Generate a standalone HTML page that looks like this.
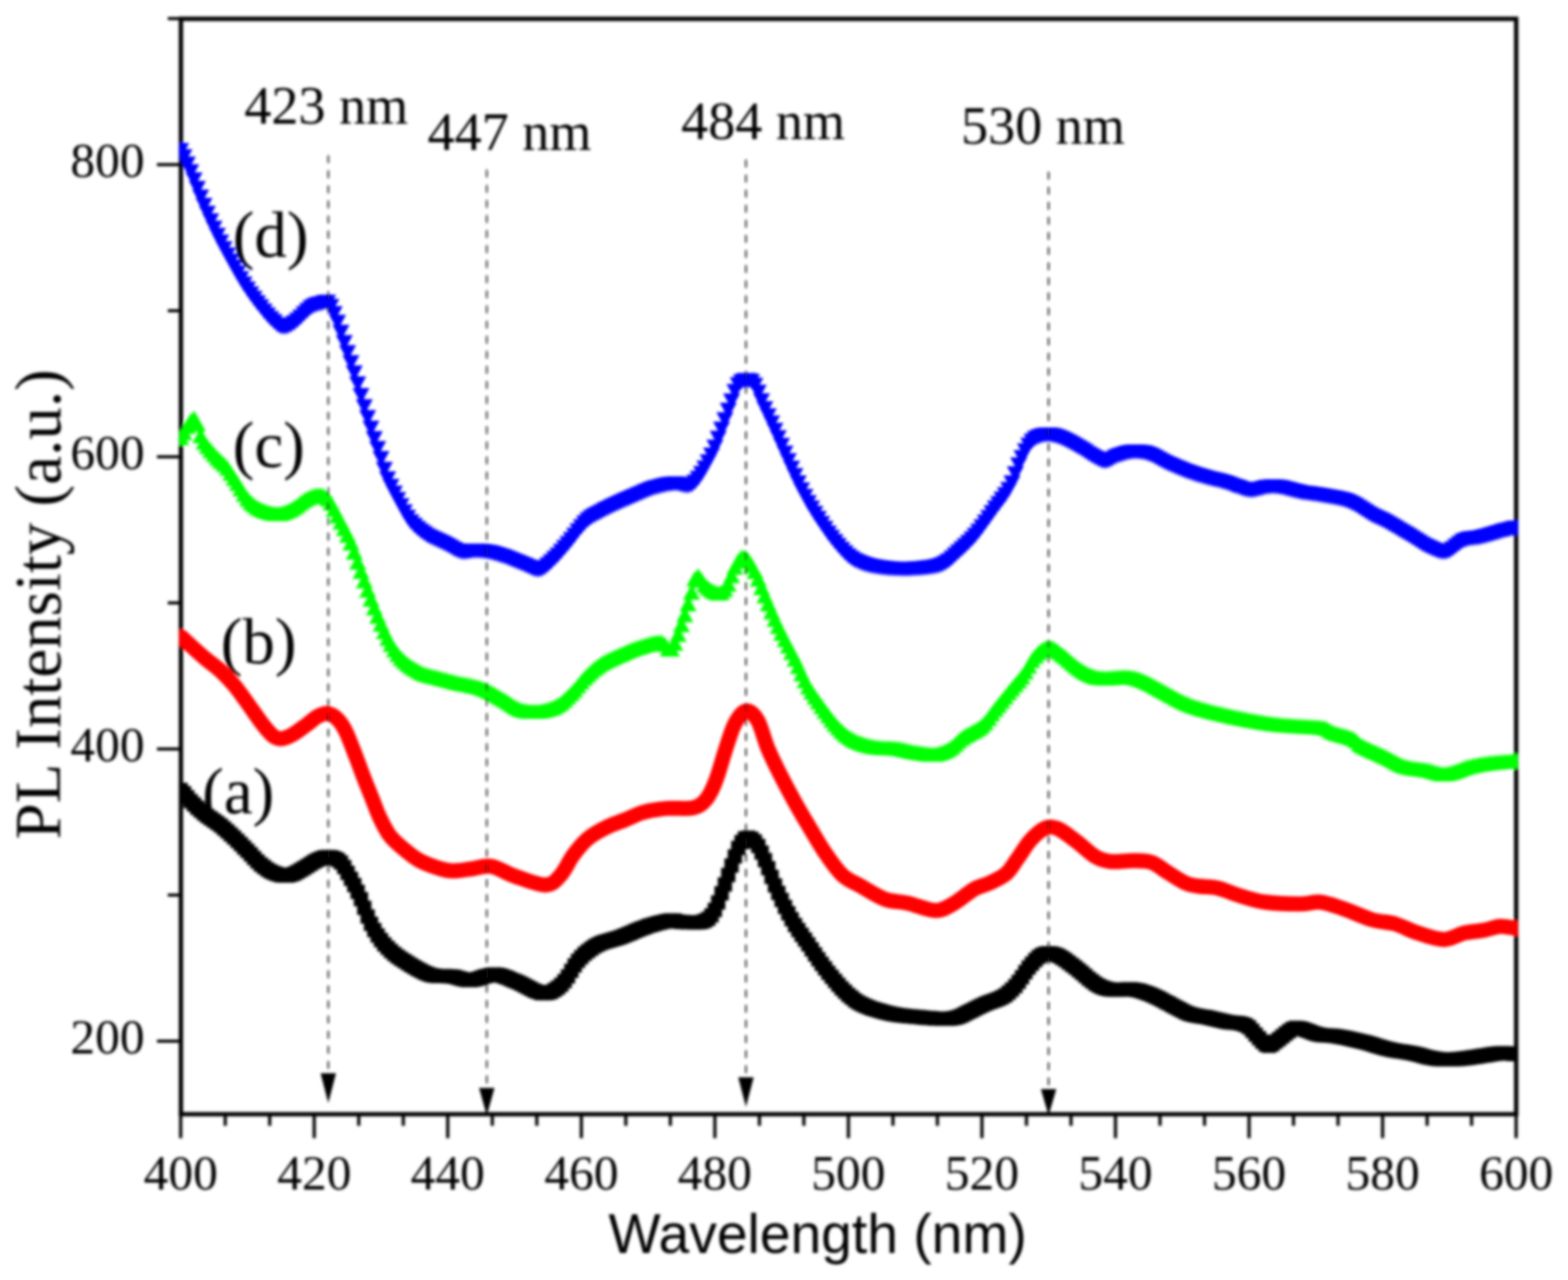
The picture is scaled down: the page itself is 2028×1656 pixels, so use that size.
<!DOCTYPE html><html><head><meta charset="utf-8"><title>PL spectra</title><style>html,body{margin:0;padding:0;background:#fff;overflow:hidden}svg{display:block}</style></head><body>
<svg xmlns="http://www.w3.org/2000/svg" width="2028" height="1656" viewBox="0 0 2028 1656">
<defs><clipPath id="pc"><rect x="231.8" y="0" width="1731.5" height="1441.5"/></clipPath><filter id="bl" filterUnits="userSpaceOnUse" x="0" y="0" width="2028" height="1656"><feGaussianBlur stdDeviation="1.8"/><feGaussianBlur stdDeviation="1.0"/></filter></defs>
<rect width="2028" height="1656" fill="#fff"/>
<g filter="url(#bl)">
<path d="M234.0,24.4H1961.0V1441.5H234.0Z" stroke="#000" stroke-width="5.6" fill="none"/>
<g stroke="#000" stroke-width="4.1" fill="none">
<path d="M203.0,1347.0H234.0M203.0,969.0H234.0M203.0,591.0H234.0M203.0,213.0H234.0M217.0,1158.0H234.0M217.0,780.0H234.0M217.0,402.0H234.0M217.0,24.0H234.0M233.7,1441.5V1472.5M291.3,1441.5V1456.5M348.8,1441.5V1456.5M406.4,1441.5V1472.5M464.0,1441.5V1456.5M521.6,1441.5V1456.5M579.1,1441.5V1472.5M636.7,1441.5V1456.5M694.3,1441.5V1456.5M751.9,1441.5V1472.5M809.4,1441.5V1456.5M867.0,1441.5V1456.5M924.6,1441.5V1472.5M982.2,1441.5V1456.5M1039.7,1441.5V1456.5M1097.3,1441.5V1472.5M1154.9,1441.5V1456.5M1212.4,1441.5V1456.5M1270.0,1441.5V1472.5M1327.6,1441.5V1456.5M1385.2,1441.5V1456.5M1442.7,1441.5V1472.5M1500.3,1441.5V1456.5M1557.9,1441.5V1456.5M1615.5,1441.5V1472.5M1673.0,1441.5V1456.5M1730.6,1441.5V1456.5M1788.2,1441.5V1472.5M1845.8,1441.5V1456.5M1903.3,1441.5V1456.5M1960.9,1441.5V1472.5"/>
</g>
<g clip-path="url(#pc)">
<path d="M234.5,1022.0C236.8,1024.7 242.8,1032.6 248.1,1038.0C253.4,1043.4 260.2,1049.5 266.2,1054.3C272.2,1059.1 278.2,1062.2 284.3,1067.0C290.4,1071.8 296.4,1077.6 302.5,1083.3C308.6,1089.0 314.6,1095.4 320.6,1101.4C326.6,1107.5 332.7,1114.8 338.7,1119.6C344.7,1124.4 350.8,1128.3 356.8,1130.4C362.8,1132.5 368.9,1133.4 374.9,1132.2C380.9,1131.0 386.9,1126.5 393.0,1123.2C399.1,1119.9 405.8,1114.7 411.2,1112.3C416.6,1109.9 420.9,1108.2 425.7,1108.7C430.5,1109.2 435.6,1110.6 440.1,1115.0C444.6,1119.4 448.6,1127.5 452.8,1135.0C457.0,1142.5 461.3,1150.5 465.5,1160.0C469.7,1169.5 474.0,1183.0 478.2,1192.0C482.4,1201.0 486.4,1207.5 490.9,1213.8C495.4,1220.1 499.8,1225.1 505.4,1230.1C510.9,1235.1 515.8,1238.9 524.2,1244.0C532.6,1249.1 545.6,1257.7 555.6,1260.9C565.6,1264.1 575.6,1262.1 584.5,1263.3C593.4,1264.5 599.4,1268.5 608.7,1268.1C618.0,1267.7 630.0,1260.5 640.1,1260.9C650.2,1261.3 658.6,1266.5 669.1,1270.5C679.6,1274.5 693.2,1284.6 702.9,1285.0C712.6,1285.4 719.5,1280.2 727.1,1272.9C734.8,1265.7 741.2,1250.0 748.8,1241.5C756.4,1233.0 764.0,1227.0 772.9,1222.2C781.8,1217.4 791.0,1216.6 801.9,1212.6C812.8,1208.6 827.3,1201.7 838.2,1198.1C849.1,1194.5 860.2,1191.7 867.1,1190.8C874.0,1189.9 872.4,1192.2 879.3,1192.5C886.2,1192.8 901.0,1194.5 908.3,1192.5C915.5,1190.5 918.4,1187.2 922.8,1180.4C927.2,1173.6 930.9,1161.9 934.9,1151.4C938.9,1140.9 943.4,1127.2 947.0,1117.6C950.6,1107.9 953.4,1099.1 956.6,1093.5C959.8,1087.9 962.7,1084.2 966.3,1083.8C969.9,1083.4 974.4,1085.9 978.4,1091.1C982.4,1096.3 986.0,1105.2 990.4,1115.2C994.8,1125.2 999.2,1138.9 1004.9,1151.4C1010.5,1163.9 1017.8,1178.8 1024.3,1190.1C1030.8,1201.4 1036.8,1209.0 1043.6,1219.1C1050.4,1229.2 1057.6,1240.4 1065.3,1250.5C1073.0,1260.6 1081.5,1271.5 1089.5,1279.5C1097.5,1287.5 1103.5,1293.6 1113.6,1298.8C1123.7,1304.0 1137.8,1308.1 1149.9,1310.9C1162.0,1313.7 1174.0,1314.5 1186.1,1315.7C1198.2,1316.9 1213.4,1318.1 1222.3,1318.1C1231.2,1318.1 1234.9,1316.8 1239.2,1315.7C1243.5,1314.6 1242.8,1314.3 1248.3,1311.6C1253.8,1308.9 1264.5,1303.1 1272.5,1299.5C1280.5,1295.9 1289.8,1293.9 1296.6,1289.9C1303.4,1285.9 1307.5,1282.2 1313.5,1275.4C1319.5,1268.6 1326.9,1255.7 1332.9,1248.8C1339.0,1241.9 1343.8,1236.3 1349.8,1234.3C1355.8,1232.3 1361.9,1233.5 1369.1,1236.7C1376.3,1239.9 1385.2,1247.5 1393.2,1253.6C1401.2,1259.6 1410.2,1268.6 1417.4,1273.0C1424.7,1277.4 1428.7,1279.0 1436.7,1280.2C1444.8,1281.4 1456.8,1279.0 1465.7,1280.2C1474.6,1281.4 1481.9,1284.2 1489.9,1287.4C1498.0,1290.6 1506.0,1295.5 1514.0,1299.5C1522.0,1303.5 1530.2,1308.8 1538.2,1311.6C1546.2,1314.4 1554.2,1314.7 1562.3,1316.4C1570.3,1318.1 1578.3,1320.3 1586.5,1322.0C1594.7,1323.7 1604.4,1322.8 1611.4,1326.3C1618.4,1329.8 1623.5,1338.8 1628.3,1343.2C1633.1,1347.6 1636.4,1352.5 1640.4,1352.9C1644.4,1353.3 1647.3,1349.3 1652.5,1345.7C1657.7,1342.1 1666.6,1333.6 1671.8,1331.2C1677.0,1328.8 1678.3,1330.0 1683.9,1331.2C1689.5,1332.4 1697.9,1336.8 1705.6,1338.4C1713.2,1340.0 1720.1,1339.2 1729.8,1340.8C1739.5,1342.4 1752.3,1345.3 1763.6,1348.1C1774.9,1350.9 1786.9,1355.3 1797.4,1357.7C1807.9,1360.1 1816.3,1360.6 1826.4,1362.6C1836.5,1364.6 1847.3,1368.6 1857.8,1369.8C1868.3,1371.0 1878.3,1370.6 1889.2,1369.8C1900.1,1369.0 1914.2,1366.2 1923.0,1365.0C1931.8,1363.8 1936.1,1362.8 1942.3,1362.6C1948.5,1362.4 1957.0,1363.6 1960.0,1363.8" fill="none" stroke="#000" stroke-width="12" stroke-linejoin="round"/>
<path d="M224.4,1012.8h18.5v18.5h-18.5zM228.8,1017.1h18.5v18.5h-18.5zM233.1,1022.3h18.5v18.5h-18.5zM237.4,1027.2h18.5v18.5h-18.5zM241.7,1031.6h18.5v18.5h-18.5zM246.0,1035.7h18.5v18.5h-18.5zM250.4,1039.5h18.5v18.5h-18.5zM254.7,1043.2h18.5v18.5h-18.5zM259.0,1046.6h18.5v18.5h-18.5zM263.3,1049.6h18.5v18.5h-18.5zM267.6,1052.5h18.5v18.5h-18.5zM271.9,1055.4h18.5v18.5h-18.5zM276.3,1058.7h18.5v18.5h-18.5zM280.6,1062.4h18.5v18.5h-18.5zM284.9,1066.2h18.5v18.5h-18.5zM289.2,1070.2h18.5v18.5h-18.5zM293.5,1074.3h18.5v18.5h-18.5zM297.9,1078.5h18.5v18.5h-18.5zM302.2,1082.8h18.5v18.5h-18.5zM306.5,1087.2h18.5v18.5h-18.5zM310.8,1091.6h18.5v18.5h-18.5zM315.1,1096.1h18.5v18.5h-18.5zM319.4,1100.7h18.5v18.5h-18.5zM323.8,1105.2h18.5v18.5h-18.5zM328.1,1109.2h18.5v18.5h-18.5zM332.4,1112.6h18.5v18.5h-18.5zM336.7,1115.7h18.5v18.5h-18.5zM341.0,1118.2h18.5v18.5h-18.5zM345.4,1120.3h18.5v18.5h-18.5zM349.7,1121.8h18.5v18.5h-18.5zM354.0,1122.9h18.5v18.5h-18.5zM358.3,1123.4h18.5v18.5h-18.5zM362.6,1123.4h18.5v18.5h-18.5zM366.9,1122.6h18.5v18.5h-18.5zM371.3,1121.0h18.5v18.5h-18.5zM375.6,1118.7h18.5v18.5h-18.5zM379.9,1116.2h18.5v18.5h-18.5zM384.2,1113.7h18.5v18.5h-18.5zM388.5,1111.1h18.5v18.5h-18.5zM392.9,1108.3h18.5v18.5h-18.5zM397.2,1105.6h18.5v18.5h-18.5zM401.5,1103.3h18.5v18.5h-18.5zM405.8,1101.4h18.5v18.5h-18.5zM410.1,1100.0h18.5v18.5h-18.5zM414.4,1099.4h18.5v18.5h-18.5zM418.8,1099.7h18.5v18.5h-18.5zM423.1,1100.9h18.5v18.5h-18.5zM427.4,1103.0h18.5v18.5h-18.5zM431.7,1106.6h18.5v18.5h-18.5zM436.0,1112.5h18.5v18.5h-18.5zM440.3,1120.0h18.5v18.5h-18.5zM444.7,1127.7h18.5v18.5h-18.5zM449.0,1135.7h18.5v18.5h-18.5zM453.3,1144.4h18.5v18.5h-18.5zM457.6,1154.0h18.5v18.5h-18.5zM461.9,1165.2h18.5v18.5h-18.5zM466.3,1176.5h18.5v18.5h-18.5zM470.6,1186.1h18.5v18.5h-18.5zM474.9,1194.1h18.5v18.5h-18.5zM479.2,1201.0h18.5v18.5h-18.5zM483.5,1207.1h18.5v18.5h-18.5zM487.8,1212.4h18.5v18.5h-18.5zM492.2,1217.1h18.5v18.5h-18.5zM496.5,1221.2h18.5v18.5h-18.5zM500.8,1224.9h18.5v18.5h-18.5zM505.1,1228.2h18.5v18.5h-18.5zM509.4,1231.2h18.5v18.5h-18.5zM513.8,1234.0h18.5v18.5h-18.5zM518.1,1236.7h18.5v18.5h-18.5zM522.4,1239.4h18.5v18.5h-18.5zM526.7,1242.0h18.5v18.5h-18.5zM531.0,1244.5h18.5v18.5h-18.5zM535.3,1246.8h18.5v18.5h-18.5zM539.7,1249.0h18.5v18.5h-18.5zM544.0,1250.8h18.5v18.5h-18.5zM548.3,1252.2h18.5v18.5h-18.5zM552.6,1253.1h18.5v18.5h-18.5zM556.9,1253.5h18.5v18.5h-18.5zM561.3,1253.6h18.5v18.5h-18.5zM565.6,1253.6h18.5v18.5h-18.5zM569.9,1253.7h18.5v18.5h-18.5zM574.2,1253.9h18.5v18.5h-18.5zM578.5,1254.6h18.5v18.5h-18.5zM582.8,1255.8h18.5v18.5h-18.5zM587.2,1257.0h18.5v18.5h-18.5zM591.5,1258.1h18.5v18.5h-18.5zM595.8,1258.8h18.5v18.5h-18.5zM600.1,1258.8h18.5v18.5h-18.5zM604.4,1258.1h18.5v18.5h-18.5zM608.8,1256.9h18.5v18.5h-18.5zM613.1,1255.5h18.5v18.5h-18.5zM617.4,1254.1h18.5v18.5h-18.5zM621.7,1252.9h18.5v18.5h-18.5zM626.0,1252.0h18.5v18.5h-18.5zM630.3,1251.6h18.5v18.5h-18.5zM634.7,1252.0h18.5v18.5h-18.5zM639.0,1253.0h18.5v18.5h-18.5zM643.3,1254.4h18.5v18.5h-18.5zM647.6,1256.1h18.5v18.5h-18.5zM651.9,1257.9h18.5v18.5h-18.5zM656.2,1259.8h18.5v18.5h-18.5zM660.6,1261.5h18.5v18.5h-18.5zM664.9,1263.5h18.5v18.5h-18.5zM669.2,1265.7h18.5v18.5h-18.5zM673.5,1268.0h18.5v18.5h-18.5zM677.8,1270.3h18.5v18.5h-18.5zM682.2,1272.4h18.5v18.5h-18.5zM686.5,1274.1h18.5v18.5h-18.5zM690.8,1275.4h18.5v18.5h-18.5zM695.1,1275.8h18.5v18.5h-18.5zM699.4,1275.3h18.5v18.5h-18.5zM703.7,1273.9h18.5v18.5h-18.5zM708.1,1271.6h18.5v18.5h-18.5zM712.4,1268.5h18.5v18.5h-18.5zM716.7,1264.7h18.5v18.5h-18.5zM721.0,1260.1h18.5v18.5h-18.5zM725.3,1253.9h18.5v18.5h-18.5zM729.7,1246.8h18.5v18.5h-18.5zM734.0,1239.8h18.5v18.5h-18.5zM738.3,1233.7h18.5v18.5h-18.5zM742.6,1229.0h18.5v18.5h-18.5zM746.9,1224.8h18.5v18.5h-18.5zM751.2,1221.2h18.5v18.5h-18.5zM755.6,1217.9h18.5v18.5h-18.5zM759.9,1215.1h18.5v18.5h-18.5zM764.2,1212.7h18.5v18.5h-18.5zM768.5,1210.7h18.5v18.5h-18.5zM772.8,1209.2h18.5v18.5h-18.5zM777.2,1207.9h18.5v18.5h-18.5zM781.5,1206.8h18.5v18.5h-18.5zM785.8,1205.6h18.5v18.5h-18.5zM790.1,1204.2h18.5v18.5h-18.5zM794.4,1202.7h18.5v18.5h-18.5zM798.7,1201.0h18.5v18.5h-18.5zM803.1,1199.2h18.5v18.5h-18.5zM807.4,1197.4h18.5v18.5h-18.5zM811.7,1195.6h18.5v18.5h-18.5zM816.0,1193.8h18.5v18.5h-18.5zM820.3,1192.0h18.5v18.5h-18.5zM824.7,1190.4h18.5v18.5h-18.5zM829.0,1188.8h18.5v18.5h-18.5zM833.3,1187.5h18.5v18.5h-18.5zM837.6,1186.2h18.5v18.5h-18.5zM841.9,1185.0h18.5v18.5h-18.5zM846.2,1183.9h18.5v18.5h-18.5zM850.6,1182.9h18.5v18.5h-18.5zM854.9,1182.0h18.5v18.5h-18.5zM859.2,1181.4h18.5v18.5h-18.5zM863.5,1181.8h18.5v18.5h-18.5zM867.8,1183.1h18.5v18.5h-18.5zM872.1,1183.4h18.5v18.5h-18.5zM876.5,1183.7h18.5v18.5h-18.5zM880.8,1183.9h18.5v18.5h-18.5zM885.1,1184.1h18.5v18.5h-18.5zM889.4,1184.2h18.5v18.5h-18.5zM893.7,1184.1h18.5v18.5h-18.5zM898.1,1183.5h18.5v18.5h-18.5zM902.4,1182.1h18.5v18.5h-18.5zM906.7,1179.6h18.5v18.5h-18.5zM911.0,1174.9h18.5v18.5h-18.5zM915.3,1168.1h18.5v18.5h-18.5zM919.6,1158.3h18.5v18.5h-18.5zM924.0,1146.6h18.5v18.5h-18.5zM928.3,1135.1h18.5v18.5h-18.5zM932.6,1122.8h18.5v18.5h-18.5zM936.9,1110.6h18.5v18.5h-18.5zM941.2,1098.8h18.5v18.5h-18.5zM945.6,1087.8h18.5v18.5h-18.5zM949.9,1080.2h18.5v18.5h-18.5zM954.2,1075.6h18.5v18.5h-18.5zM958.5,1074.5h18.5v18.5h-18.5zM962.8,1076.0h18.5v18.5h-18.5zM967.1,1079.5h18.5v18.5h-18.5zM971.5,1085.3h18.5v18.5h-18.5zM975.8,1093.8h18.5v18.5h-18.5zM980.1,1103.5h18.5v18.5h-18.5zM984.4,1113.9h18.5v18.5h-18.5zM988.7,1125.2h18.5v18.5h-18.5zM993.1,1136.2h18.5v18.5h-18.5zM997.4,1145.9h18.5v18.5h-18.5zM1001.7,1155.1h18.5v18.5h-18.5zM1006.0,1163.9h18.5v18.5h-18.5zM1010.3,1172.2h18.5v18.5h-18.5zM1014.6,1180.1h18.5v18.5h-18.5zM1019.0,1187.4h18.5v18.5h-18.5zM1023.3,1193.9h18.5v18.5h-18.5zM1027.6,1200.2h18.5v18.5h-18.5zM1031.9,1206.3h18.5v18.5h-18.5zM1036.2,1212.6h18.5v18.5h-18.5zM1040.6,1219.1h18.5v18.5h-18.5zM1044.9,1225.5h18.5v18.5h-18.5zM1049.2,1231.8h18.5v18.5h-18.5zM1053.5,1237.8h18.5v18.5h-18.5zM1057.8,1243.6h18.5v18.5h-18.5zM1062.1,1249.2h18.5v18.5h-18.5zM1066.5,1254.6h18.5v18.5h-18.5zM1070.8,1259.8h18.5v18.5h-18.5zM1075.1,1264.8h18.5v18.5h-18.5zM1079.4,1269.4h18.5v18.5h-18.5zM1083.7,1273.7h18.5v18.5h-18.5zM1088.0,1277.9h18.5v18.5h-18.5zM1092.4,1281.6h18.5v18.5h-18.5zM1096.7,1284.9h18.5v18.5h-18.5zM1101.0,1287.7h18.5v18.5h-18.5zM1105.3,1290.0h18.5v18.5h-18.5zM1109.6,1292.0h18.5v18.5h-18.5zM1114.0,1293.8h18.5v18.5h-18.5zM1118.3,1295.4h18.5v18.5h-18.5zM1122.6,1296.8h18.5v18.5h-18.5zM1126.9,1298.1h18.5v18.5h-18.5zM1131.2,1299.3h18.5v18.5h-18.5zM1135.5,1300.4h18.5v18.5h-18.5zM1139.9,1301.5h18.5v18.5h-18.5zM1144.2,1302.4h18.5v18.5h-18.5zM1148.5,1303.2h18.5v18.5h-18.5zM1152.8,1303.9h18.5v18.5h-18.5zM1157.1,1304.5h18.5v18.5h-18.5zM1161.5,1305.0h18.5v18.5h-18.5zM1165.8,1305.4h18.5v18.5h-18.5zM1170.1,1305.8h18.5v18.5h-18.5zM1174.4,1306.2h18.5v18.5h-18.5zM1178.7,1306.6h18.5v18.5h-18.5zM1183.0,1307.0h18.5v18.5h-18.5zM1187.4,1307.4h18.5v18.5h-18.5zM1191.7,1307.8h18.5v18.5h-18.5zM1196.0,1308.1h18.5v18.5h-18.5zM1200.3,1308.4h18.5v18.5h-18.5zM1204.6,1308.6h18.5v18.5h-18.5zM1209.0,1308.8h18.5v18.5h-18.5zM1213.3,1308.8h18.5v18.5h-18.5zM1217.6,1308.7h18.5v18.5h-18.5zM1221.9,1308.3h18.5v18.5h-18.5zM1226.2,1307.4h18.5v18.5h-18.5zM1230.5,1306.3h18.5v18.5h-18.5zM1234.9,1304.6h18.5v18.5h-18.5zM1239.2,1302.3h18.5v18.5h-18.5zM1243.5,1300.1h18.5v18.5h-18.5zM1247.8,1297.9h18.5v18.5h-18.5zM1252.1,1295.7h18.5v18.5h-18.5zM1256.5,1293.5h18.5v18.5h-18.5zM1260.8,1291.4h18.5v18.5h-18.5zM1265.1,1289.5h18.5v18.5h-18.5zM1269.4,1287.8h18.5v18.5h-18.5zM1273.7,1286.3h18.5v18.5h-18.5zM1278.0,1284.8h18.5v18.5h-18.5zM1282.4,1283.1h18.5v18.5h-18.5zM1286.7,1281.0h18.5v18.5h-18.5zM1291.0,1278.4h18.5v18.5h-18.5zM1295.3,1275.1h18.5v18.5h-18.5zM1299.6,1271.1h18.5v18.5h-18.5zM1304.0,1266.5h18.5v18.5h-18.5zM1308.3,1261.1h18.5v18.5h-18.5zM1312.6,1254.9h18.5v18.5h-18.5zM1316.9,1248.5h18.5v18.5h-18.5zM1321.2,1242.5h18.5v18.5h-18.5zM1325.5,1237.4h18.5v18.5h-18.5zM1329.9,1232.7h18.5v18.5h-18.5zM1334.2,1228.7h18.5v18.5h-18.5zM1338.5,1225.9h18.5v18.5h-18.5zM1342.8,1224.4h18.5v18.5h-18.5zM1347.1,1224.1h18.5v18.5h-18.5zM1351.4,1224.6h18.5v18.5h-18.5zM1355.8,1225.8h18.5v18.5h-18.5zM1360.1,1227.6h18.5v18.5h-18.5zM1364.4,1229.9h18.5v18.5h-18.5zM1368.7,1232.7h18.5v18.5h-18.5zM1373.0,1235.9h18.5v18.5h-18.5zM1377.4,1239.3h18.5v18.5h-18.5zM1381.7,1242.6h18.5v18.5h-18.5zM1386.0,1245.9h18.5v18.5h-18.5zM1390.3,1249.5h18.5v18.5h-18.5zM1394.6,1253.2h18.5v18.5h-18.5zM1398.9,1256.9h18.5v18.5h-18.5zM1403.3,1260.3h18.5v18.5h-18.5zM1407.6,1263.4h18.5v18.5h-18.5zM1411.9,1265.9h18.5v18.5h-18.5zM1416.2,1268.1h18.5v18.5h-18.5zM1420.5,1269.6h18.5v18.5h-18.5zM1424.9,1270.5h18.5v18.5h-18.5zM1429.2,1271.1h18.5v18.5h-18.5zM1433.5,1271.3h18.5v18.5h-18.5zM1437.8,1271.2h18.5v18.5h-18.5zM1442.1,1270.9h18.5v18.5h-18.5zM1446.4,1270.7h18.5v18.5h-18.5zM1450.8,1270.6h18.5v18.5h-18.5zM1455.1,1270.8h18.5v18.5h-18.5zM1459.4,1271.4h18.5v18.5h-18.5zM1463.7,1272.3h18.5v18.5h-18.5zM1468.0,1273.5h18.5v18.5h-18.5zM1472.4,1275.0h18.5v18.5h-18.5zM1476.7,1276.6h18.5v18.5h-18.5zM1481.0,1278.3h18.5v18.5h-18.5zM1485.3,1280.2h18.5v18.5h-18.5zM1489.6,1282.3h18.5v18.5h-18.5zM1493.9,1284.6h18.5v18.5h-18.5zM1498.3,1286.9h18.5v18.5h-18.5zM1502.6,1289.1h18.5v18.5h-18.5zM1506.9,1291.4h18.5v18.5h-18.5zM1511.2,1293.7h18.5v18.5h-18.5zM1515.5,1296.0h18.5v18.5h-18.5zM1519.8,1298.3h18.5v18.5h-18.5zM1524.2,1300.4h18.5v18.5h-18.5zM1528.5,1302.2h18.5v18.5h-18.5zM1532.8,1303.5h18.5v18.5h-18.5zM1537.1,1304.5h18.5v18.5h-18.5zM1541.4,1305.2h18.5v18.5h-18.5zM1545.8,1305.9h18.5v18.5h-18.5zM1550.1,1306.6h18.5v18.5h-18.5zM1554.4,1307.4h18.5v18.5h-18.5zM1558.7,1308.4h18.5v18.5h-18.5zM1563.0,1309.5h18.5v18.5h-18.5zM1567.3,1310.5h18.5v18.5h-18.5zM1571.7,1311.5h18.5v18.5h-18.5zM1576.0,1312.5h18.5v18.5h-18.5zM1580.3,1313.3h18.5v18.5h-18.5zM1584.6,1313.7h18.5v18.5h-18.5zM1588.9,1314.1h18.5v18.5h-18.5zM1593.3,1314.6h18.5v18.5h-18.5zM1597.6,1315.4h18.5v18.5h-18.5zM1601.9,1316.9h18.5v18.5h-18.5zM1606.2,1319.8h18.5v18.5h-18.5zM1610.5,1324.2h18.5v18.5h-18.5zM1614.8,1329.3h18.5v18.5h-18.5zM1619.2,1334.1h18.5v18.5h-18.5zM1623.5,1338.4h18.5v18.5h-18.5zM1627.8,1342.3h18.5v18.5h-18.5zM1632.1,1343.7h18.5v18.5h-18.5zM1636.4,1341.8h18.5v18.5h-18.5zM1640.8,1338.3h18.5v18.5h-18.5zM1645.1,1335.1h18.5v18.5h-18.5zM1649.4,1331.6h18.5v18.5h-18.5zM1653.7,1328.1h18.5v18.5h-18.5zM1658.0,1324.8h18.5v18.5h-18.5zM1662.3,1322.0h18.5v18.5h-18.5zM1666.7,1320.6h18.5v18.5h-18.5zM1671.0,1321.1h18.5v18.5h-18.5zM1675.3,1322.1h18.5v18.5h-18.5zM1679.6,1323.5h18.5v18.5h-18.5zM1683.9,1325.1h18.5v18.5h-18.5zM1688.3,1326.7h18.5v18.5h-18.5zM1692.6,1328.2h18.5v18.5h-18.5zM1696.9,1329.3h18.5v18.5h-18.5zM1701.2,1329.9h18.5v18.5h-18.5zM1705.5,1330.2h18.5v18.5h-18.5zM1709.8,1330.5h18.5v18.5h-18.5zM1714.2,1330.8h18.5v18.5h-18.5zM1718.5,1331.2h18.5v18.5h-18.5zM1722.8,1331.9h18.5v18.5h-18.5zM1727.1,1332.7h18.5v18.5h-18.5zM1731.4,1333.6h18.5v18.5h-18.5zM1735.8,1334.5h18.5v18.5h-18.5zM1740.1,1335.5h18.5v18.5h-18.5zM1744.4,1336.4h18.5v18.5h-18.5zM1748.7,1337.5h18.5v18.5h-18.5zM1753.0,1338.5h18.5v18.5h-18.5zM1757.3,1339.6h18.5v18.5h-18.5zM1761.7,1340.8h18.5v18.5h-18.5zM1766.0,1342.1h18.5v18.5h-18.5zM1770.3,1343.4h18.5v18.5h-18.5zM1774.6,1344.7h18.5v18.5h-18.5zM1778.9,1346.0h18.5v18.5h-18.5zM1783.2,1347.2h18.5v18.5h-18.5zM1787.6,1348.3h18.5v18.5h-18.5zM1791.9,1349.3h18.5v18.5h-18.5zM1796.2,1350.0h18.5v18.5h-18.5zM1800.5,1350.7h18.5v18.5h-18.5zM1804.8,1351.3h18.5v18.5h-18.5zM1809.2,1352.0h18.5v18.5h-18.5zM1813.5,1352.7h18.5v18.5h-18.5zM1817.8,1353.5h18.5v18.5h-18.5zM1822.1,1354.5h18.5v18.5h-18.5zM1826.4,1355.6h18.5v18.5h-18.5zM1830.7,1356.7h18.5v18.5h-18.5zM1835.1,1357.9h18.5v18.5h-18.5zM1839.4,1358.9h18.5v18.5h-18.5zM1843.7,1359.8h18.5v18.5h-18.5zM1848.0,1360.5h18.5v18.5h-18.5zM1852.3,1360.9h18.5v18.5h-18.5zM1856.7,1361.2h18.5v18.5h-18.5zM1861.0,1361.3h18.5v18.5h-18.5zM1865.3,1361.3h18.5v18.5h-18.5zM1869.6,1361.2h18.5v18.5h-18.5zM1873.9,1360.9h18.5v18.5h-18.5zM1878.2,1360.7h18.5v18.5h-18.5zM1882.6,1360.3h18.5v18.5h-18.5zM1886.9,1359.8h18.5v18.5h-18.5zM1891.2,1359.3h18.5v18.5h-18.5zM1895.5,1358.6h18.5v18.5h-18.5zM1899.8,1357.9h18.5v18.5h-18.5zM1904.2,1357.2h18.5v18.5h-18.5zM1908.5,1356.5h18.5v18.5h-18.5zM1912.8,1355.9h18.5v18.5h-18.5zM1917.1,1355.3h18.5v18.5h-18.5zM1921.4,1354.6h18.5v18.5h-18.5zM1925.7,1354.0h18.5v18.5h-18.5zM1930.1,1353.5h18.5v18.5h-18.5zM1934.4,1353.3h18.5v18.5h-18.5zM1938.7,1353.5h18.5v18.5h-18.5zM1943.0,1353.8h18.5v18.5h-18.5zM1947.3,1354.2h18.5v18.5h-18.5zM1951.6,1354.5h18.5v18.5h-18.5z" fill="#000"/>
<path d="M234.5,824.0C236.8,826.1 242.8,831.8 248.1,836.5C253.4,841.2 260.2,847.4 266.2,852.5C272.2,857.6 278.2,861.4 284.3,867.0C290.4,872.6 296.4,878.8 302.5,886.0C308.6,893.2 314.6,902.1 320.6,910.4C326.6,918.7 333.3,928.8 338.7,935.8C344.1,942.8 349.0,948.8 353.2,952.1C357.4,955.4 359.9,956.0 364.1,955.7C368.3,955.4 373.2,953.3 378.6,950.3C384.0,947.3 391.3,941.5 396.7,937.6C402.1,933.7 406.7,929.1 411.2,926.7C415.7,924.3 419.6,922.5 423.8,923.1C428.0,923.7 432.6,926.5 436.5,930.4C440.4,934.3 443.5,938.8 447.4,946.7C451.3,954.6 456.0,967.7 460.0,978.0C464.0,988.3 467.9,999.2 471.4,1008.3C474.9,1017.4 477.9,1024.5 481.1,1032.5C484.3,1040.5 486.9,1048.5 490.7,1056.6C494.5,1064.6 498.6,1073.7 504.0,1080.8C509.4,1087.9 516.5,1093.6 523.0,1099.0C529.5,1104.4 535.4,1109.4 542.7,1113.4C550.0,1117.4 559.8,1120.8 566.8,1123.0C573.8,1125.2 577.8,1126.5 584.9,1126.7C592.0,1126.9 600.7,1125.3 609.1,1124.3C617.5,1123.3 626.1,1119.4 635.3,1120.8C644.5,1122.2 652.6,1128.9 664.3,1132.9C676.0,1136.9 695.2,1144.9 705.3,1144.9C715.3,1144.9 718.6,1139.3 724.6,1132.9C730.6,1126.5 735.5,1114.4 741.5,1106.3C747.5,1098.2 753.6,1090.5 760.9,1084.5C768.1,1078.5 777.0,1074.0 785.0,1070.0C793.0,1066.0 801.2,1063.6 809.2,1060.4C817.2,1057.2 824.4,1053.1 833.3,1050.7C842.1,1048.3 851.7,1046.9 862.3,1045.9C872.9,1045.0 888.4,1047.1 897.0,1045.0C905.6,1042.9 909.1,1039.3 914.0,1033.3C918.9,1027.3 922.1,1019.7 926.1,1009.2C930.1,998.7 934.2,982.6 938.2,970.5C942.2,958.4 945.8,945.2 950.2,936.7C954.6,928.2 959.7,920.6 964.7,919.8C969.7,919.0 975.3,924.0 980.0,932.0C984.7,940.0 988.2,956.4 993.0,968.0C997.8,979.6 1003.1,990.2 1009.0,1001.9C1014.9,1013.6 1021.8,1026.5 1028.3,1038.2C1034.8,1049.9 1041.5,1061.2 1048.0,1072.0C1054.5,1082.8 1060.1,1093.0 1067.0,1103.0C1073.9,1113.0 1081.7,1124.8 1089.5,1132.1C1097.3,1139.4 1104.3,1141.4 1113.6,1146.6C1122.8,1151.8 1134.9,1159.9 1145.0,1163.5C1155.1,1167.1 1163.1,1166.0 1174.0,1168.4C1184.9,1170.8 1200.1,1178.0 1210.2,1178.0C1220.3,1178.0 1226.0,1173.1 1234.4,1168.4C1242.8,1163.7 1252.9,1154.3 1260.4,1150.0C1268.0,1145.7 1272.9,1145.8 1279.7,1142.5C1286.5,1139.2 1295.4,1135.6 1301.4,1130.4C1307.4,1125.2 1310.7,1118.3 1315.9,1111.1C1321.2,1103.9 1326.9,1093.6 1332.9,1087.0C1339.0,1080.4 1346.2,1073.7 1352.2,1071.3C1358.2,1068.9 1362.3,1069.5 1369.1,1072.5C1375.9,1075.5 1385.2,1083.4 1393.2,1089.4C1401.2,1095.4 1410.2,1104.5 1417.4,1108.7C1424.7,1112.9 1428.7,1113.9 1436.7,1114.7C1444.8,1115.5 1456.8,1113.3 1465.7,1113.5C1474.6,1113.7 1482.7,1113.5 1489.9,1115.9C1497.2,1118.3 1502.0,1123.6 1509.2,1128.0C1516.4,1132.4 1526.5,1139.4 1533.3,1142.5C1540.1,1145.6 1543.0,1145.4 1550.0,1146.5C1557.0,1147.6 1566.0,1146.9 1575.0,1149.0C1584.0,1151.1 1593.9,1156.0 1604.0,1159.0C1614.1,1162.0 1622.7,1165.2 1635.6,1167.0C1648.5,1168.8 1669.3,1169.5 1681.4,1169.5C1693.5,1169.5 1698.7,1166.2 1708.0,1167.2C1717.3,1168.2 1725.8,1171.7 1737.0,1175.5C1748.2,1179.3 1763.9,1186.8 1775.0,1190.0C1786.1,1193.2 1793.6,1192.2 1803.4,1195.0C1813.2,1197.8 1822.9,1203.6 1833.6,1207.0C1844.3,1210.4 1857.3,1215.5 1867.4,1215.5C1877.5,1215.5 1885.5,1209.0 1894.0,1207.0C1902.5,1205.0 1910.5,1205.1 1918.2,1203.7C1925.9,1202.3 1933.0,1199.0 1940.0,1198.5C1947.0,1198.0 1956.7,1200.6 1960.0,1201.0" fill="none" stroke="#ff0000" stroke-width="19.5" stroke-linejoin="round" stroke-linecap="round"/>
<path d="M234.5,566.0C237.2,561.8 246.5,540.7 251.0,541.0C255.5,541.3 256.8,559.5 261.4,567.6C265.9,575.7 273.1,583.4 278.3,589.4C283.5,595.4 288.0,597.9 292.8,603.9C297.6,609.9 302.5,618.4 307.3,625.6C312.1,632.8 316.6,641.7 321.8,647.3C327.0,652.9 332.3,656.6 338.7,659.4C345.1,662.2 353.5,664.7 360.4,664.3C367.2,663.9 373.8,660.2 379.8,657.0C385.9,653.8 391.1,647.7 396.7,644.9C402.3,642.1 408.8,639.7 413.6,640.1C418.4,640.5 421.7,642.5 425.7,647.3C429.7,652.1 433.3,660.6 437.7,669.1C442.1,677.6 447.8,687.6 452.2,698.1C456.6,708.6 460.3,720.6 464.3,731.9C468.3,743.2 472.4,754.8 476.4,765.7C480.4,776.6 484.1,786.6 488.5,797.1C492.9,807.6 497.7,819.2 502.9,828.5C508.1,837.8 513.0,845.9 519.9,852.7C526.8,859.6 536.0,865.6 544.0,869.6C552.0,873.6 560.2,874.6 568.2,876.8C576.2,879.0 583.2,880.8 592.3,883.0C601.4,885.2 613.7,886.7 623.0,890.0C632.3,893.3 640.0,898.3 648.3,902.9C656.5,907.5 664.5,914.6 672.5,917.4C680.5,920.2 688.6,920.6 696.6,919.8C704.6,919.0 713.5,916.6 720.8,912.6C728.0,908.6 734.1,901.8 740.1,895.7C746.1,889.7 751.0,882.3 757.0,876.3C763.0,870.2 769.0,864.2 776.3,859.4C783.5,854.6 792.2,851.0 800.5,847.3C808.8,843.6 817.0,839.8 826.0,837.0C835.0,834.2 847.6,829.9 854.6,830.4C861.6,830.9 863.6,843.6 868.0,840.0C872.4,836.4 876.9,820.2 881.0,809.0C885.1,797.8 889.2,783.7 892.5,773.0C895.8,762.3 897.5,747.3 901.0,745.0C904.5,742.7 908.9,755.3 913.8,759.0C918.7,762.7 926.0,767.5 930.6,767.0C935.2,766.5 938.1,761.8 941.5,756.0C944.9,750.2 947.8,738.0 951.2,732.0C954.6,726.0 958.0,719.2 962.0,720.0C966.0,720.8 970.6,728.3 975.3,737.0C979.9,745.7 984.9,760.2 989.9,772.0C994.9,783.8 999.5,795.3 1005.5,808.0C1011.5,820.7 1019.8,835.3 1026.0,848.0C1032.2,860.7 1037.3,873.7 1043.0,884.0C1048.7,894.3 1053.5,900.8 1060.0,910.0C1066.5,919.2 1075.0,931.3 1082.0,939.0C1089.0,946.7 1094.0,951.5 1102.0,956.0C1110.0,960.5 1119.9,963.7 1129.8,965.7C1139.7,967.7 1152.0,966.9 1161.2,968.1C1170.5,969.3 1177.2,971.8 1185.3,973.0C1193.3,974.2 1202.2,976.2 1209.5,975.4C1216.8,974.6 1222.8,971.7 1228.8,968.1C1234.8,964.5 1238.8,958.4 1245.7,953.6C1252.6,948.8 1263.0,945.0 1269.9,939.1C1276.8,933.2 1280.8,925.7 1287.0,918.0C1293.2,910.3 1301.0,900.4 1307.0,893.0C1313.0,885.6 1317.8,881.1 1323.0,873.9C1328.2,866.7 1332.5,856.1 1338.0,850.0C1343.5,843.9 1349.9,837.7 1355.7,837.0C1361.5,836.3 1365.5,841.1 1372.6,846.0C1379.7,850.9 1389.8,861.4 1398.1,866.5C1406.4,871.6 1412.2,875.0 1422.2,876.5C1432.2,878.0 1448.4,874.8 1458.0,875.5C1467.6,876.2 1471.5,877.5 1480.0,881.0C1488.5,884.5 1499.5,891.5 1509.2,896.5C1518.9,901.5 1527.3,907.0 1538.2,911.3C1549.1,915.5 1561.4,918.7 1574.4,922.0C1587.4,925.3 1603.2,928.5 1616.2,931.0C1629.2,933.5 1640.4,935.4 1652.5,936.8C1664.6,938.2 1678.6,938.7 1688.7,939.5C1698.8,940.3 1706.9,940.2 1712.9,941.6C1718.9,943.0 1718.9,945.4 1724.9,947.6C1730.9,949.8 1743.0,952.2 1749.1,955.0C1755.1,957.8 1754.0,960.5 1761.2,964.5C1768.5,968.5 1783.3,974.6 1792.6,979.0C1801.8,983.4 1807.8,988.3 1816.7,991.1C1825.6,993.9 1836.8,994.3 1845.7,995.9C1854.6,997.5 1860.6,1001.6 1869.9,1000.8C1879.2,1000.0 1891.2,993.5 1901.3,991.1C1911.3,988.7 1920.4,987.5 1930.2,986.3C1940.0,985.1 1955.0,984.3 1960.0,983.9" fill="none" stroke="#00ff00" stroke-width="6" stroke-linejoin="round" stroke-linecap="round"/>
<path d="M222.7,576.0h22.0l-11.00,-20zM227.0,569.5h22.0l-11.00,-20zM231.3,561.4h22.0l-11.00,-20zM235.7,554.6h22.0l-11.00,-20zM240.0,551.0h22.0l-11.00,-20zM244.3,558.2h22.0l-11.00,-20zM248.6,573.5h22.0l-11.00,-20zM252.9,581.7h22.0l-11.00,-20zM257.2,587.6h22.0l-11.00,-20zM261.6,592.8h22.0l-11.00,-20zM265.9,597.8h22.0l-11.00,-20zM270.2,602.5h22.0l-11.00,-20zM274.5,606.5h22.0l-11.00,-20zM278.8,610.5h22.0l-11.00,-20zM283.2,615.6h22.0l-11.00,-20zM287.5,621.9h22.0l-11.00,-20zM291.8,628.6h22.0l-11.00,-20zM296.1,635.3h22.0l-11.00,-20zM300.4,642.2h22.0l-11.00,-20zM304.7,649.2h22.0l-11.00,-20zM309.1,655.3h22.0l-11.00,-20zM313.4,659.9h22.0l-11.00,-20zM317.7,663.6h22.0l-11.00,-20zM322.0,666.5h22.0l-11.00,-20zM326.3,668.8h22.0l-11.00,-20zM330.6,670.6h22.0l-11.00,-20zM335.0,672.1h22.0l-11.00,-20zM339.3,673.3h22.0l-11.00,-20zM343.6,674.0h22.0l-11.00,-20zM347.9,674.3h22.0l-11.00,-20zM352.2,674.0h22.0l-11.00,-20zM356.6,672.8h22.0l-11.00,-20zM360.9,671.1h22.0l-11.00,-20zM365.2,668.9h22.0l-11.00,-20zM369.5,666.6h22.0l-11.00,-20zM373.8,663.7h22.0l-11.00,-20zM378.1,660.2h22.0l-11.00,-20zM382.5,656.9h22.0l-11.00,-20zM386.8,654.4h22.0l-11.00,-20zM391.1,652.5h22.0l-11.00,-20zM395.4,651.0h22.0l-11.00,-20zM399.7,650.2h22.0l-11.00,-20zM404.1,650.3h22.0l-11.00,-20zM408.4,651.7h22.0l-11.00,-20zM412.7,655.1h22.0l-11.00,-20zM417.0,660.5h22.0l-11.00,-20zM421.3,668.4h22.0l-11.00,-20zM425.6,677.1h22.0l-11.00,-20zM430.0,685.3h22.0l-11.00,-20zM434.3,693.5h22.0l-11.00,-20zM438.6,702.3h22.0l-11.00,-20zM442.9,712.3h22.0l-11.00,-20zM447.2,724.2h22.0l-11.00,-20zM451.6,736.9h22.0l-11.00,-20zM455.9,749.1h22.0l-11.00,-20zM460.2,761.3h22.0l-11.00,-20zM464.5,773.3h22.0l-11.00,-20zM468.8,784.9h22.0l-11.00,-20zM473.1,796.3h22.0l-11.00,-20zM477.5,807.0h22.0l-11.00,-20zM481.8,817.2h22.0l-11.00,-20zM486.1,827.0h22.0l-11.00,-20zM490.4,835.8h22.0l-11.00,-20zM494.7,843.4h22.0l-11.00,-20zM499.1,850.4h22.0l-11.00,-20zM503.4,856.4h22.0l-11.00,-20zM507.7,861.5h22.0l-11.00,-20zM512.0,865.6h22.0l-11.00,-20zM516.3,869.2h22.0l-11.00,-20zM520.6,872.3h22.0l-11.00,-20zM525.0,875.1h22.0l-11.00,-20zM529.3,877.6h22.0l-11.00,-20zM533.6,879.9h22.0l-11.00,-20zM537.9,881.7h22.0l-11.00,-20zM542.2,883.1h22.0l-11.00,-20zM546.5,884.2h22.0l-11.00,-20zM550.9,885.2h22.0l-11.00,-20zM555.2,886.3h22.0l-11.00,-20zM559.5,887.4h22.0l-11.00,-20zM563.8,888.6h22.0l-11.00,-20zM568.1,889.7h22.0l-11.00,-20zM572.5,890.8h22.0l-11.00,-20zM576.8,891.9h22.0l-11.00,-20zM581.1,893.0h22.0l-11.00,-20zM585.4,893.9h22.0l-11.00,-20zM589.7,894.8h22.0l-11.00,-20zM594.0,895.6h22.0l-11.00,-20zM598.4,896.4h22.0l-11.00,-20zM602.7,897.4h22.0l-11.00,-20zM607.0,898.5h22.0l-11.00,-20zM611.3,899.8h22.0l-11.00,-20zM615.6,901.4h22.0l-11.00,-20zM620.0,903.4h22.0l-11.00,-20zM624.3,905.6h22.0l-11.00,-20zM628.6,907.9h22.0l-11.00,-20zM632.9,910.4h22.0l-11.00,-20zM637.2,912.9h22.0l-11.00,-20zM641.5,915.5h22.0l-11.00,-20zM645.9,918.3h22.0l-11.00,-20zM650.2,921.3h22.0l-11.00,-20zM654.5,924.0h22.0l-11.00,-20zM658.8,926.3h22.0l-11.00,-20zM663.1,927.9h22.0l-11.00,-20zM667.5,929.1h22.0l-11.00,-20zM671.8,929.8h22.0l-11.00,-20zM676.1,930.1h22.0l-11.00,-20zM680.4,930.1h22.0l-11.00,-20zM684.7,929.9h22.0l-11.00,-20zM689.0,929.4h22.0l-11.00,-20zM693.4,928.6h22.0l-11.00,-20zM697.7,927.5h22.0l-11.00,-20zM702.0,926.1h22.0l-11.00,-20zM706.3,924.4h22.0l-11.00,-20zM710.6,922.1h22.0l-11.00,-20zM715.0,919.2h22.0l-11.00,-20zM719.3,915.5h22.0l-11.00,-20zM723.6,911.3h22.0l-11.00,-20zM727.9,906.9h22.0l-11.00,-20zM732.2,902.4h22.0l-11.00,-20zM736.5,897.2h22.0l-11.00,-20zM740.9,892.0h22.0l-11.00,-20zM745.2,887.1h22.0l-11.00,-20zM749.5,882.8h22.0l-11.00,-20zM753.8,878.7h22.0l-11.00,-20zM758.1,874.8h22.0l-11.00,-20zM762.5,871.4h22.0l-11.00,-20zM766.8,868.5h22.0l-11.00,-20zM771.1,865.9h22.0l-11.00,-20zM775.4,863.7h22.0l-11.00,-20zM779.7,861.7h22.0l-11.00,-20zM784.0,859.7h22.0l-11.00,-20zM788.4,857.8h22.0l-11.00,-20zM792.7,855.9h22.0l-11.00,-20zM797.0,853.9h22.0l-11.00,-20zM801.3,852.1h22.0l-11.00,-20zM805.6,850.3h22.0l-11.00,-20zM809.9,848.7h22.0l-11.00,-20zM814.3,847.2h22.0l-11.00,-20zM818.6,845.9h22.0l-11.00,-20zM822.9,844.5h22.0l-11.00,-20zM827.2,843.2h22.0l-11.00,-20zM831.5,842.1h22.0l-11.00,-20zM835.9,841.1h22.0l-11.00,-20zM840.2,840.5h22.0l-11.00,-20zM844.5,840.5h22.0l-11.00,-20zM848.8,843.4h22.0l-11.00,-20zM853.1,849.2h22.0l-11.00,-20zM857.4,849.6h22.0l-11.00,-20zM861.8,842.1h22.0l-11.00,-20zM866.1,830.4h22.0l-11.00,-20zM870.4,817.9h22.0l-11.00,-20zM874.7,805.0h22.0l-11.00,-20zM879.0,791.0h22.0l-11.00,-20zM883.4,776.1h22.0l-11.00,-20zM887.7,758.8h22.0l-11.00,-20zM892.0,755.1h22.0l-11.00,-20zM896.3,760.4h22.0l-11.00,-20zM900.6,766.8h22.0l-11.00,-20zM904.9,770.6h22.0l-11.00,-20zM909.3,773.4h22.0l-11.00,-20zM913.6,775.7h22.0l-11.00,-20zM917.9,777.0h22.0l-11.00,-20zM922.2,776.2h22.0l-11.00,-20zM926.5,772.2h22.0l-11.00,-20zM930.9,765.4h22.0l-11.00,-20zM935.2,754.6h22.0l-11.00,-20zM939.5,743.4h22.0l-11.00,-20zM943.8,735.7h22.0l-11.00,-20zM948.1,730.7h22.0l-11.00,-20zM952.4,730.6h22.0l-11.00,-20zM956.8,734.7h22.0l-11.00,-20zM961.1,741.2h22.0l-11.00,-20zM965.4,749.1h22.0l-11.00,-20zM969.7,759.0h22.0l-11.00,-20zM974.0,769.9h22.0l-11.00,-20zM978.3,780.7h22.0l-11.00,-20zM982.7,791.0h22.0l-11.00,-20zM987.0,801.2h22.0l-11.00,-20zM991.3,811.1h22.0l-11.00,-20zM995.6,820.3h22.0l-11.00,-20zM999.9,828.9h22.0l-11.00,-20zM1004.3,837.2h22.0l-11.00,-20zM1008.6,845.4h22.0l-11.00,-20zM1012.9,853.8h22.0l-11.00,-20zM1017.2,862.6h22.0l-11.00,-20zM1021.5,872.0h22.0l-11.00,-20zM1025.8,881.6h22.0l-11.00,-20zM1030.2,890.5h22.0l-11.00,-20zM1034.5,898.4h22.0l-11.00,-20zM1038.8,905.3h22.0l-11.00,-20zM1043.1,911.7h22.0l-11.00,-20zM1047.4,917.8h22.0l-11.00,-20zM1051.8,923.9h22.0l-11.00,-20zM1056.1,929.9h22.0l-11.00,-20zM1060.4,935.8h22.0l-11.00,-20zM1064.7,941.5h22.0l-11.00,-20zM1069.0,946.8h22.0l-11.00,-20zM1073.3,951.5h22.0l-11.00,-20zM1077.7,956.0h22.0l-11.00,-20zM1082.0,959.8h22.0l-11.00,-20zM1086.3,963.1h22.0l-11.00,-20zM1090.6,965.8h22.0l-11.00,-20zM1094.9,968.0h22.0l-11.00,-20zM1099.3,969.9h22.0l-11.00,-20zM1103.6,971.5h22.0l-11.00,-20zM1107.9,973.0h22.0l-11.00,-20zM1112.2,974.2h22.0l-11.00,-20zM1116.5,975.2h22.0l-11.00,-20zM1120.8,976.1h22.0l-11.00,-20zM1125.2,976.6h22.0l-11.00,-20zM1129.5,977.0h22.0l-11.00,-20zM1133.8,977.2h22.0l-11.00,-20zM1138.1,977.3h22.0l-11.00,-20zM1142.4,977.5h22.0l-11.00,-20zM1146.8,977.7h22.0l-11.00,-20zM1151.1,978.2h22.0l-11.00,-20zM1155.4,978.9h22.0l-11.00,-20zM1159.7,979.9h22.0l-11.00,-20zM1164.0,980.9h22.0l-11.00,-20zM1168.3,981.9h22.0l-11.00,-20zM1172.7,982.7h22.0l-11.00,-20zM1177.0,983.4h22.0l-11.00,-20zM1181.3,984.1h22.0l-11.00,-20zM1185.6,984.8h22.0l-11.00,-20zM1189.9,985.3h22.0l-11.00,-20zM1194.2,985.6h22.0l-11.00,-20zM1198.6,985.4h22.0l-11.00,-20zM1202.9,984.6h22.0l-11.00,-20zM1207.2,983.3h22.0l-11.00,-20zM1211.5,981.5h22.0l-11.00,-20zM1215.8,979.3h22.0l-11.00,-20zM1220.2,976.5h22.0l-11.00,-20zM1224.5,972.7h22.0l-11.00,-20zM1228.8,968.5h22.0l-11.00,-20zM1233.1,964.8h22.0l-11.00,-20zM1237.4,961.8h22.0l-11.00,-20zM1241.7,959.4h22.0l-11.00,-20zM1246.1,957.1h22.0l-11.00,-20zM1250.4,954.8h22.0l-11.00,-20zM1254.7,952.2h22.0l-11.00,-20zM1259.0,949.0h22.0l-11.00,-20zM1263.3,944.7h22.0l-11.00,-20zM1267.7,939.3h22.0l-11.00,-20zM1272.0,933.3h22.0l-11.00,-20zM1276.3,927.6h22.0l-11.00,-20zM1280.6,922.2h22.0l-11.00,-20zM1284.9,916.8h22.0l-11.00,-20zM1289.2,911.4h22.0l-11.00,-20zM1293.6,906.0h22.0l-11.00,-20zM1297.9,900.7h22.0l-11.00,-20zM1302.2,895.8h22.0l-11.00,-20zM1306.5,890.8h22.0l-11.00,-20zM1310.8,885.5h22.0l-11.00,-20zM1315.2,879.0h22.0l-11.00,-20zM1319.5,871.4h22.0l-11.00,-20zM1323.8,864.2h22.0l-11.00,-20zM1328.1,858.8h22.0l-11.00,-20zM1332.4,854.3h22.0l-11.00,-20zM1336.7,850.7h22.0l-11.00,-20zM1341.1,848.1h22.0l-11.00,-20zM1345.4,846.9h22.0l-11.00,-20zM1349.7,847.8h22.0l-11.00,-20zM1354.0,850.3h22.0l-11.00,-20zM1358.3,853.6h22.0l-11.00,-20zM1362.7,856.8h22.0l-11.00,-20zM1367.0,860.2h22.0l-11.00,-20zM1371.3,863.9h22.0l-11.00,-20zM1375.6,867.7h22.0l-11.00,-20zM1379.9,871.3h22.0l-11.00,-20zM1384.2,874.6h22.0l-11.00,-20zM1388.6,877.4h22.0l-11.00,-20zM1392.9,880.0h22.0l-11.00,-20zM1397.2,882.2h22.0l-11.00,-20zM1401.5,884.1h22.0l-11.00,-20zM1405.8,885.4h22.0l-11.00,-20zM1410.1,886.3h22.0l-11.00,-20zM1414.5,886.8h22.0l-11.00,-20zM1418.8,886.9h22.0l-11.00,-20zM1423.1,886.7h22.0l-11.00,-20zM1427.4,886.4h22.0l-11.00,-20zM1431.7,886.1h22.0l-11.00,-20zM1436.1,885.7h22.0l-11.00,-20zM1440.4,885.5h22.0l-11.00,-20zM1444.7,885.4h22.0l-11.00,-20zM1449.0,885.7h22.0l-11.00,-20zM1453.3,886.2h22.0l-11.00,-20zM1457.6,887.0h22.0l-11.00,-20zM1462.0,888.3h22.0l-11.00,-20zM1466.3,889.9h22.0l-11.00,-20zM1470.6,891.7h22.0l-11.00,-20zM1474.9,893.7h22.0l-11.00,-20zM1479.2,896.0h22.0l-11.00,-20zM1483.6,898.4h22.0l-11.00,-20zM1487.9,900.8h22.0l-11.00,-20zM1492.2,903.2h22.0l-11.00,-20zM1496.5,905.6h22.0l-11.00,-20zM1500.8,907.9h22.0l-11.00,-20zM1505.1,910.3h22.0l-11.00,-20zM1509.5,912.7h22.0l-11.00,-20zM1513.8,915.0h22.0l-11.00,-20zM1518.1,917.2h22.0l-11.00,-20zM1522.4,919.3h22.0l-11.00,-20zM1526.7,921.1h22.0l-11.00,-20zM1531.1,922.7h22.0l-11.00,-20zM1535.4,924.2h22.0l-11.00,-20zM1539.7,925.6h22.0l-11.00,-20zM1544.0,926.9h22.0l-11.00,-20zM1548.3,928.1h22.0l-11.00,-20zM1552.6,929.2h22.0l-11.00,-20zM1557.0,930.4h22.0l-11.00,-20zM1561.3,931.5h22.0l-11.00,-20zM1565.6,932.5h22.0l-11.00,-20zM1569.9,933.6h22.0l-11.00,-20zM1574.2,934.6h22.0l-11.00,-20zM1578.6,935.6h22.0l-11.00,-20zM1582.9,936.5h22.0l-11.00,-20zM1587.2,937.4h22.0l-11.00,-20zM1591.5,938.3h22.0l-11.00,-20zM1595.8,939.2h22.0l-11.00,-20zM1600.1,940.0h22.0l-11.00,-20zM1604.5,940.9h22.0l-11.00,-20zM1608.8,941.7h22.0l-11.00,-20zM1613.1,942.5h22.0l-11.00,-20zM1617.4,943.2h22.0l-11.00,-20zM1621.7,944.0h22.0l-11.00,-20zM1626.0,944.7h22.0l-11.00,-20zM1630.4,945.3h22.0l-11.00,-20zM1634.7,945.9h22.0l-11.00,-20zM1639.0,946.5h22.0l-11.00,-20zM1643.3,947.0h22.0l-11.00,-20zM1647.6,947.4h22.0l-11.00,-20zM1652.0,947.8h22.0l-11.00,-20zM1656.3,948.1h22.0l-11.00,-20zM1660.6,948.4h22.0l-11.00,-20zM1664.9,948.7h22.0l-11.00,-20zM1669.2,948.9h22.0l-11.00,-20zM1673.5,949.2h22.0l-11.00,-20zM1677.9,949.5h22.0l-11.00,-20zM1682.2,949.8h22.0l-11.00,-20zM1686.5,950.1h22.0l-11.00,-20zM1690.8,950.3h22.0l-11.00,-20zM1695.1,950.6h22.0l-11.00,-20zM1699.5,951.1h22.0l-11.00,-20zM1703.8,952.1h22.0l-11.00,-20zM1708.1,954.4h22.0l-11.00,-20zM1712.4,957.0h22.0l-11.00,-20zM1716.7,958.5h22.0l-11.00,-20zM1721.0,959.8h22.0l-11.00,-20zM1725.4,960.9h22.0l-11.00,-20zM1729.7,962.1h22.0l-11.00,-20zM1734.0,963.4h22.0l-11.00,-20zM1738.3,965.1h22.0l-11.00,-20zM1742.6,968.1h22.0l-11.00,-20zM1747.0,972.4h22.0l-11.00,-20zM1751.3,975.1h22.0l-11.00,-20zM1755.6,977.2h22.0l-11.00,-20zM1759.9,979.2h22.0l-11.00,-20zM1764.2,981.2h22.0l-11.00,-20zM1768.5,983.1h22.0l-11.00,-20zM1772.9,985.0h22.0l-11.00,-20zM1777.2,986.9h22.0l-11.00,-20zM1781.5,989.0h22.0l-11.00,-20zM1785.8,991.2h22.0l-11.00,-20zM1790.1,993.6h22.0l-11.00,-20zM1794.5,996.0h22.0l-11.00,-20zM1798.8,998.3h22.0l-11.00,-20zM1803.1,1000.2h22.0l-11.00,-20zM1807.4,1001.6h22.0l-11.00,-20zM1811.7,1002.6h22.0l-11.00,-20zM1816.0,1003.4h22.0l-11.00,-20zM1820.4,1004.0h22.0l-11.00,-20zM1824.7,1004.5h22.0l-11.00,-20zM1829.0,1005.0h22.0l-11.00,-20zM1833.3,1005.7h22.0l-11.00,-20zM1837.6,1006.5h22.0l-11.00,-20zM1841.9,1007.8h22.0l-11.00,-20zM1846.3,1009.1h22.0l-11.00,-20zM1850.6,1010.3h22.0l-11.00,-20zM1854.9,1010.9h22.0l-11.00,-20zM1859.2,1010.8h22.0l-11.00,-20zM1863.5,1010.0h22.0l-11.00,-20zM1867.9,1008.8h22.0l-11.00,-20zM1872.2,1007.3h22.0l-11.00,-20zM1876.5,1005.7h22.0l-11.00,-20zM1880.8,1004.1h22.0l-11.00,-20zM1885.1,1002.6h22.0l-11.00,-20zM1889.4,1001.3h22.0l-11.00,-20zM1893.8,1000.3h22.0l-11.00,-20zM1898.1,999.4h22.0l-11.00,-20zM1902.4,998.6h22.0l-11.00,-20zM1906.7,998.0h22.0l-11.00,-20zM1911.0,997.3h22.0l-11.00,-20zM1915.4,996.8h22.0l-11.00,-20zM1919.7,996.2h22.0l-11.00,-20zM1924.0,995.8h22.0l-11.00,-20zM1928.3,995.4h22.0l-11.00,-20zM1932.6,995.0h22.0l-11.00,-20zM1936.9,994.7h22.0l-11.00,-20zM1941.3,994.4h22.0l-11.00,-20zM1945.6,994.1h22.0l-11.00,-20zM1949.9,993.9h22.0l-11.00,-20z" fill="#00ff00"/>
<path d="M234.5,195.0C236.8,200.3 243.0,213.8 248.5,227.0C254.0,240.2 260.5,258.3 267.3,274.0C274.1,289.7 281.2,305.3 289.3,321.0C297.4,336.7 307.5,354.8 315.9,368.0C324.3,381.2 333.0,391.8 339.5,400.0C346.0,408.2 350.6,413.1 355.0,417.0C359.4,420.9 361.7,423.4 365.9,423.6C370.1,423.8 374.4,422.4 380.4,418.2C386.4,414.0 396.1,402.5 402.1,398.3C408.1,394.1 412.8,393.8 416.6,392.8C420.4,391.8 421.8,389.0 424.8,392.1C427.8,395.2 430.9,402.1 434.5,411.4C438.1,420.6 442.6,435.5 446.6,447.6C450.6,459.7 454.6,471.0 458.6,483.9C462.6,496.8 466.7,511.6 470.7,524.9C474.7,538.2 479.2,552.3 482.8,563.6C486.4,574.9 489.3,583.0 492.5,592.6C495.7,602.2 498.1,611.9 502.1,621.5C506.1,631.1 511.8,641.6 516.6,650.5C521.4,659.4 525.5,667.9 531.1,674.7C536.7,681.6 543.1,686.8 550.4,691.6C557.6,696.4 567.0,699.9 574.6,703.7C582.2,707.5 589.9,712.9 596.3,714.5C602.7,716.1 607.6,713.3 613.2,713.3C618.8,713.3 623.7,713.3 630.1,714.5C636.5,715.7 644.2,718.0 651.9,720.6C659.5,723.2 668.4,727.4 676.0,730.2C683.6,733.0 690.9,738.7 697.8,737.5C704.6,736.3 710.7,729.0 717.1,723.0C723.5,717.0 729.5,709.3 736.4,701.3C743.2,693.2 751.4,681.2 758.2,674.7C765.1,668.2 771.1,666.2 777.5,662.6C783.9,659.0 789.0,656.5 796.8,652.9C804.6,649.3 815.6,644.4 824.2,640.8C832.8,637.2 840.2,633.6 848.3,631.2C856.3,628.8 865.2,626.7 872.5,626.3C879.8,625.9 886.2,630.7 891.8,628.7C897.4,626.7 901.5,621.1 906.3,614.3C911.1,607.5 916.4,597.4 920.8,587.7C925.2,578.0 928.9,567.2 932.9,556.3C936.9,545.4 941.3,532.2 944.9,522.5C948.5,512.8 951.0,503.3 954.6,498.3C958.2,493.3 963.1,492.2 966.7,492.3C970.4,492.4 972.9,493.2 976.5,499.0C980.1,504.8 983.7,516.2 988.5,527.0C993.3,537.8 999.7,551.0 1005.3,563.5C1010.9,576.0 1016.2,588.9 1022.2,602.2C1028.2,615.5 1035.0,631.1 1041.5,643.2C1048.0,655.3 1054.5,664.9 1060.9,674.6C1067.4,684.3 1073.4,693.1 1080.2,701.2C1087.0,709.3 1094.2,717.8 1101.9,723.0C1109.6,728.2 1117.4,730.4 1126.1,732.6C1134.8,734.8 1144.0,735.6 1153.9,736.2C1163.8,736.8 1174.6,737.1 1185.3,736.2C1196.0,735.3 1208.9,734.7 1218.0,731.0C1227.1,727.3 1232.7,720.5 1240.0,714.0C1247.3,707.5 1254.2,701.3 1262.0,692.0C1269.8,682.7 1279.7,668.2 1287.0,658.0C1294.3,647.8 1300.8,640.7 1306.0,631.0C1311.2,621.3 1313.9,609.4 1318.4,599.7C1322.9,590.1 1327.7,579.1 1332.9,573.1C1338.1,567.1 1343.8,564.7 1349.8,563.5C1355.8,562.3 1361.9,563.5 1369.1,565.9C1376.3,568.3 1386.0,574.0 1393.2,578.0C1400.5,582.0 1406.5,586.8 1412.6,590.0C1418.6,593.2 1423.9,597.3 1429.5,597.3C1435.1,597.3 1440.4,592.0 1446.4,590.0C1452.4,588.0 1459.3,585.6 1465.7,585.2C1472.1,584.8 1477.8,585.2 1485.0,587.6C1492.2,590.0 1500.3,595.7 1509.2,599.7C1518.1,603.7 1529.4,608.6 1538.2,611.8C1547.0,615.0 1555.1,617.0 1562.3,619.0C1569.5,621.0 1575.4,622.1 1581.6,623.9C1587.8,625.7 1593.1,628.2 1599.3,630.0C1605.5,631.8 1610.5,634.9 1618.6,634.9C1626.6,634.9 1637.1,629.6 1647.6,630.0C1658.1,630.4 1670.5,635.3 1681.4,637.3C1692.3,639.3 1702.4,640.1 1712.9,642.1C1723.4,644.1 1734.2,645.4 1744.3,649.4C1754.3,653.4 1765.2,661.9 1773.2,666.3C1781.2,670.7 1784.5,671.5 1792.6,675.9C1800.6,680.3 1812.7,687.7 1821.5,692.9C1830.3,698.1 1837.6,703.7 1845.7,707.3C1853.8,710.9 1861.9,715.9 1869.9,714.6C1878.0,713.3 1886.0,702.8 1894.0,699.5C1902.0,696.2 1910.2,696.9 1918.2,695.0C1926.2,693.1 1935.3,689.9 1942.3,688.0C1949.3,686.1 1957.0,684.2 1960.0,683.5" fill="none" stroke="#0000ff" stroke-width="6" stroke-linejoin="round" stroke-linecap="round"/>
<path d="M222.7,185.0h22.0l-11.00,20zM227.0,192.9h22.0l-11.00,20zM231.3,202.6h22.0l-11.00,20zM235.7,212.6h22.0l-11.00,20zM240.0,223.1h22.0l-11.00,20zM244.3,234.1h22.0l-11.00,20zM248.6,245.2h22.0l-11.00,20zM252.9,256.0h22.0l-11.00,20zM257.2,266.2h22.0l-11.00,20zM261.6,276.0h22.0l-11.00,20zM265.9,285.5h22.0l-11.00,20zM270.2,294.7h22.0l-11.00,20zM274.5,303.5h22.0l-11.00,20zM278.8,312.0h22.0l-11.00,20zM283.2,320.2h22.0l-11.00,20zM287.5,328.2h22.0l-11.00,20zM291.8,335.9h22.0l-11.00,20zM296.1,343.5h22.0l-11.00,20zM300.4,350.8h22.0l-11.00,20zM304.7,357.8h22.0l-11.00,20zM309.1,364.3h22.0l-11.00,20zM313.4,370.5h22.0l-11.00,20zM317.7,376.3h22.0l-11.00,20zM322.0,381.9h22.0l-11.00,20zM326.3,387.3h22.0l-11.00,20zM330.6,392.7h22.0l-11.00,20zM335.0,397.8h22.0l-11.00,20zM339.3,402.5h22.0l-11.00,20zM343.6,406.6h22.0l-11.00,20zM347.9,410.5h22.0l-11.00,20zM352.2,413.1h22.0l-11.00,20zM356.6,413.6h22.0l-11.00,20zM360.9,412.8h22.0l-11.00,20zM365.2,410.8h22.0l-11.00,20zM369.5,408.1h22.0l-11.00,20zM373.8,404.5h22.0l-11.00,20zM378.1,400.4h22.0l-11.00,20zM382.5,396.0h22.0l-11.00,20zM386.8,391.9h22.0l-11.00,20zM391.1,388.3h22.0l-11.00,20zM395.4,385.8h22.0l-11.00,20zM399.7,384.2h22.0l-11.00,20zM404.1,383.2h22.0l-11.00,20zM408.4,381.7h22.0l-11.00,20zM412.7,381.2h22.0l-11.00,20zM417.0,386.7h22.0l-11.00,20zM421.3,396.0h22.0l-11.00,20zM425.6,407.2h22.0l-11.00,20zM430.0,420.2h22.0l-11.00,20zM434.3,433.6h22.0l-11.00,20zM438.6,446.5h22.0l-11.00,20zM442.9,459.4h22.0l-11.00,20zM447.2,472.7h22.0l-11.00,20zM451.6,487.1h22.0l-11.00,20zM455.9,502.0h22.0l-11.00,20zM460.2,516.5h22.0l-11.00,20zM464.5,530.5h22.0l-11.00,20zM468.8,544.3h22.0l-11.00,20zM473.1,557.7h22.0l-11.00,20zM477.5,570.6h22.0l-11.00,20zM481.8,583.4h22.0l-11.00,20zM486.1,597.4h22.0l-11.00,20zM490.4,609.8h22.0l-11.00,20zM494.7,619.6h22.0l-11.00,20zM499.1,628.3h22.0l-11.00,20zM503.4,636.4h22.0l-11.00,20zM507.7,644.4h22.0l-11.00,20zM512.0,652.4h22.0l-11.00,20zM516.3,659.6h22.0l-11.00,20zM520.6,665.4h22.0l-11.00,20zM525.0,670.0h22.0l-11.00,20zM529.3,674.0h22.0l-11.00,20zM533.6,677.5h22.0l-11.00,20zM537.9,680.6h22.0l-11.00,20zM542.2,683.4h22.0l-11.00,20zM546.5,685.7h22.0l-11.00,20zM550.9,687.8h22.0l-11.00,20zM555.2,689.8h22.0l-11.00,20zM559.5,691.7h22.0l-11.00,20zM563.8,693.8h22.0l-11.00,20zM568.1,696.1h22.0l-11.00,20zM572.5,698.6h22.0l-11.00,20zM576.8,700.9h22.0l-11.00,20zM581.1,703.0h22.0l-11.00,20zM585.4,704.5h22.0l-11.00,20zM589.7,705.0h22.0l-11.00,20zM594.0,704.5h22.0l-11.00,20zM598.4,703.7h22.0l-11.00,20zM602.7,703.3h22.0l-11.00,20zM607.0,703.3h22.0l-11.00,20zM611.3,703.5h22.0l-11.00,20zM615.6,703.9h22.0l-11.00,20zM620.0,704.7h22.0l-11.00,20zM624.3,705.6h22.0l-11.00,20zM628.6,706.8h22.0l-11.00,20zM632.9,708.0h22.0l-11.00,20zM637.2,709.4h22.0l-11.00,20zM641.5,710.8h22.0l-11.00,20zM645.9,712.4h22.0l-11.00,20zM650.2,714.2h22.0l-11.00,20zM654.5,716.0h22.0l-11.00,20zM658.8,717.8h22.0l-11.00,20zM663.1,719.5h22.0l-11.00,20zM667.5,721.2h22.0l-11.00,20zM671.8,723.2h22.0l-11.00,20zM676.1,725.3h22.0l-11.00,20zM680.4,727.0h22.0l-11.00,20zM684.7,727.7h22.0l-11.00,20zM689.0,726.9h22.0l-11.00,20zM693.4,724.6h22.0l-11.00,20zM697.7,721.1h22.0l-11.00,20zM702.0,717.0h22.0l-11.00,20zM706.3,712.8h22.0l-11.00,20zM710.6,708.4h22.0l-11.00,20zM715.0,703.6h22.0l-11.00,20zM719.3,698.6h22.0l-11.00,20zM723.6,693.4h22.0l-11.00,20zM727.9,688.3h22.0l-11.00,20zM732.2,682.7h22.0l-11.00,20zM736.5,677.1h22.0l-11.00,20zM740.9,671.7h22.0l-11.00,20zM745.2,666.7h22.0l-11.00,20zM749.5,662.7h22.0l-11.00,20zM753.8,659.5h22.0l-11.00,20zM758.1,657.0h22.0l-11.00,20zM762.5,654.8h22.0l-11.00,20zM766.8,652.4h22.0l-11.00,20zM771.1,650.1h22.0l-11.00,20zM775.4,647.9h22.0l-11.00,20zM779.7,645.8h22.0l-11.00,20zM784.0,643.7h22.0l-11.00,20zM788.4,641.7h22.0l-11.00,20zM792.7,639.8h22.0l-11.00,20zM797.0,637.8h22.0l-11.00,20zM801.3,635.9h22.0l-11.00,20zM805.6,634.0h22.0l-11.00,20zM809.9,632.2h22.0l-11.00,20zM814.3,630.3h22.0l-11.00,20zM818.6,628.5h22.0l-11.00,20zM822.9,626.6h22.0l-11.00,20zM827.2,624.8h22.0l-11.00,20zM831.5,623.1h22.0l-11.00,20zM835.9,621.6h22.0l-11.00,20zM840.2,620.4h22.0l-11.00,20zM844.5,619.2h22.0l-11.00,20zM848.8,618.2h22.0l-11.00,20zM853.1,617.3h22.0l-11.00,20zM857.4,616.7h22.0l-11.00,20zM861.8,616.3h22.0l-11.00,20zM866.1,616.6h22.0l-11.00,20zM870.4,617.7h22.0l-11.00,20zM874.7,618.8h22.0l-11.00,20zM879.0,619.1h22.0l-11.00,20zM883.4,617.5h22.0l-11.00,20zM887.7,614.0h22.0l-11.00,20zM892.0,608.9h22.0l-11.00,20zM896.3,602.8h22.0l-11.00,20zM900.6,595.8h22.0l-11.00,20zM904.9,587.8h22.0l-11.00,20zM909.3,578.9h22.0l-11.00,20zM913.6,568.8h22.0l-11.00,20zM917.9,557.3h22.0l-11.00,20zM922.2,545.4h22.0l-11.00,20zM926.5,533.3h22.0l-11.00,20zM930.9,520.9h22.0l-11.00,20zM935.2,509.0h22.0l-11.00,20zM939.5,496.7h22.0l-11.00,20zM943.8,488.0h22.0l-11.00,20zM948.1,484.1h22.0l-11.00,20zM952.4,482.5h22.0l-11.00,20zM956.8,482.4h22.0l-11.00,20zM961.1,483.8h22.0l-11.00,20zM965.4,488.8h22.0l-11.00,20zM969.7,497.8h22.0l-11.00,20zM974.0,508.7h22.0l-11.00,20zM978.3,518.9h22.0l-11.00,20zM982.7,528.3h22.0l-11.00,20zM987.0,537.6h22.0l-11.00,20zM991.3,546.9h22.0l-11.00,20zM995.6,556.5h22.0l-11.00,20zM999.9,566.4h22.0l-11.00,20zM1004.3,576.4h22.0l-11.00,20zM1008.6,586.3h22.0l-11.00,20zM1012.9,595.9h22.0l-11.00,20zM1017.2,605.5h22.0l-11.00,20zM1021.5,615.0h22.0l-11.00,20zM1025.8,624.1h22.0l-11.00,20zM1030.2,632.6h22.0l-11.00,20zM1034.5,640.4h22.0l-11.00,20zM1038.8,647.6h22.0l-11.00,20zM1043.1,654.4h22.0l-11.00,20zM1047.4,660.9h22.0l-11.00,20zM1051.8,667.4h22.0l-11.00,20zM1056.1,673.7h22.0l-11.00,20zM1060.4,679.9h22.0l-11.00,20zM1064.7,685.6h22.0l-11.00,20zM1069.0,691.0h22.0l-11.00,20zM1073.3,696.1h22.0l-11.00,20zM1077.7,700.9h22.0l-11.00,20zM1082.0,705.4h22.0l-11.00,20zM1086.3,709.4h22.0l-11.00,20zM1090.6,712.8h22.0l-11.00,20zM1094.9,715.5h22.0l-11.00,20zM1099.3,717.6h22.0l-11.00,20zM1103.6,719.3h22.0l-11.00,20zM1107.9,720.7h22.0l-11.00,20zM1112.2,721.9h22.0l-11.00,20zM1116.5,722.9h22.0l-11.00,20zM1120.8,723.8h22.0l-11.00,20zM1125.2,724.6h22.0l-11.00,20zM1129.5,725.1h22.0l-11.00,20zM1133.8,725.5h22.0l-11.00,20zM1138.1,725.9h22.0l-11.00,20zM1142.4,726.2h22.0l-11.00,20zM1146.8,726.4h22.0l-11.00,20zM1151.1,726.6h22.0l-11.00,20zM1155.4,726.7h22.0l-11.00,20zM1159.7,726.8h22.0l-11.00,20zM1164.0,726.7h22.0l-11.00,20zM1168.3,726.6h22.0l-11.00,20zM1172.7,726.3h22.0l-11.00,20zM1177.0,726.0h22.0l-11.00,20zM1181.3,725.7h22.0l-11.00,20zM1185.6,725.3h22.0l-11.00,20zM1189.9,724.8h22.0l-11.00,20zM1194.2,724.2h22.0l-11.00,20zM1198.6,723.5h22.0l-11.00,20zM1202.9,722.4h22.0l-11.00,20zM1207.2,720.9h22.0l-11.00,20zM1211.5,718.8h22.0l-11.00,20zM1215.8,715.9h22.0l-11.00,20zM1220.2,712.2h22.0l-11.00,20zM1224.5,708.2h22.0l-11.00,20zM1228.8,704.2h22.0l-11.00,20zM1233.1,700.3h22.0l-11.00,20zM1237.4,696.3h22.0l-11.00,20zM1241.7,692.1h22.0l-11.00,20zM1246.1,687.6h22.0l-11.00,20zM1250.4,682.7h22.0l-11.00,20zM1254.7,677.4h22.0l-11.00,20zM1259.0,671.7h22.0l-11.00,20zM1263.3,665.8h22.0l-11.00,20zM1267.7,659.7h22.0l-11.00,20zM1272.0,653.6h22.0l-11.00,20zM1276.3,647.6h22.0l-11.00,20zM1280.6,641.8h22.0l-11.00,20zM1284.9,636.1h22.0l-11.00,20zM1289.2,630.2h22.0l-11.00,20zM1293.6,623.6h22.0l-11.00,20zM1297.9,614.9h22.0l-11.00,20zM1302.2,603.3h22.0l-11.00,20zM1306.5,591.7h22.0l-11.00,20zM1310.8,582.3h22.0l-11.00,20zM1315.2,573.5h22.0l-11.00,20zM1319.5,566.3h22.0l-11.00,20zM1323.8,561.1h22.0l-11.00,20zM1328.1,557.6h22.0l-11.00,20zM1332.4,555.4h22.0l-11.00,20zM1336.7,554.0h22.0l-11.00,20zM1341.1,553.2h22.0l-11.00,20zM1345.4,553.1h22.0l-11.00,20zM1349.7,553.6h22.0l-11.00,20zM1354.0,554.6h22.0l-11.00,20zM1358.3,556.0h22.0l-11.00,20zM1362.7,557.7h22.0l-11.00,20zM1367.0,559.7h22.0l-11.00,20zM1371.3,562.0h22.0l-11.00,20zM1375.6,564.3h22.0l-11.00,20zM1379.9,566.7h22.0l-11.00,20zM1384.2,569.2h22.0l-11.00,20zM1388.6,571.8h22.0l-11.00,20zM1392.9,574.6h22.0l-11.00,20zM1397.2,577.4h22.0l-11.00,20zM1401.5,580.0h22.0l-11.00,20zM1405.8,582.4h22.0l-11.00,20zM1410.1,584.8h22.0l-11.00,20zM1414.5,586.7h22.0l-11.00,20zM1418.8,587.3h22.0l-11.00,20zM1423.1,586.3h22.0l-11.00,20zM1427.4,584.0h22.0l-11.00,20zM1431.7,581.6h22.0l-11.00,20zM1436.1,579.8h22.0l-11.00,20zM1440.4,578.4h22.0l-11.00,20zM1444.7,577.1h22.0l-11.00,20zM1449.0,576.0h22.0l-11.00,20zM1453.3,575.3h22.0l-11.00,20zM1457.6,575.1h22.0l-11.00,20zM1462.0,575.2h22.0l-11.00,20zM1466.3,575.7h22.0l-11.00,20zM1470.6,576.6h22.0l-11.00,20zM1474.9,577.9h22.0l-11.00,20zM1479.2,579.8h22.0l-11.00,20zM1483.6,582.0h22.0l-11.00,20zM1487.9,584.4h22.0l-11.00,20zM1492.2,586.7h22.0l-11.00,20zM1496.5,588.9h22.0l-11.00,20zM1500.8,590.9h22.0l-11.00,20zM1505.1,592.8h22.0l-11.00,20zM1509.5,594.7h22.0l-11.00,20zM1513.8,596.5h22.0l-11.00,20zM1518.1,598.3h22.0l-11.00,20zM1522.4,600.0h22.0l-11.00,20zM1526.7,601.6h22.0l-11.00,20zM1531.1,603.1h22.0l-11.00,20zM1535.4,604.5h22.0l-11.00,20zM1539.7,605.8h22.0l-11.00,20zM1544.0,607.0h22.0l-11.00,20zM1548.3,608.2h22.0l-11.00,20zM1552.6,609.4h22.0l-11.00,20zM1557.0,610.5h22.0l-11.00,20zM1561.3,611.5h22.0l-11.00,20zM1565.6,612.5h22.0l-11.00,20zM1569.9,613.7h22.0l-11.00,20zM1574.2,615.1h22.0l-11.00,20zM1578.6,616.6h22.0l-11.00,20zM1582.9,618.2h22.0l-11.00,20zM1587.2,619.7h22.0l-11.00,20zM1591.5,621.1h22.0l-11.00,20zM1595.8,622.7h22.0l-11.00,20zM1600.1,624.0h22.0l-11.00,20zM1604.5,624.7h22.0l-11.00,20zM1608.8,624.9h22.0l-11.00,20zM1613.1,624.3h22.0l-11.00,20zM1617.4,623.3h22.0l-11.00,20zM1621.7,622.2h22.0l-11.00,20zM1626.0,621.1h22.0l-11.00,20zM1630.4,620.4h22.0l-11.00,20zM1634.7,620.0h22.0l-11.00,20zM1639.0,620.2h22.0l-11.00,20zM1643.3,620.8h22.0l-11.00,20zM1647.6,621.6h22.0l-11.00,20zM1652.0,622.7h22.0l-11.00,20zM1656.3,623.8h22.0l-11.00,20zM1660.6,625.0h22.0l-11.00,20zM1664.9,626.1h22.0l-11.00,20zM1669.2,627.1h22.0l-11.00,20zM1673.5,627.9h22.0l-11.00,20zM1677.9,628.5h22.0l-11.00,20zM1682.2,629.1h22.0l-11.00,20zM1686.5,629.7h22.0l-11.00,20zM1690.8,630.3h22.0l-11.00,20zM1695.1,630.9h22.0l-11.00,20zM1699.5,631.7h22.0l-11.00,20zM1703.8,632.5h22.0l-11.00,20zM1708.1,633.2h22.0l-11.00,20zM1712.4,634.0h22.0l-11.00,20zM1716.7,634.8h22.0l-11.00,20zM1721.0,635.7h22.0l-11.00,20zM1725.4,636.8h22.0l-11.00,20zM1729.7,638.1h22.0l-11.00,20zM1734.0,639.7h22.0l-11.00,20zM1738.3,641.7h22.0l-11.00,20zM1742.6,644.1h22.0l-11.00,20zM1747.0,646.7h22.0l-11.00,20zM1751.3,649.5h22.0l-11.00,20zM1755.6,652.3h22.0l-11.00,20zM1759.9,655.0h22.0l-11.00,20zM1764.2,657.4h22.0l-11.00,20zM1768.5,659.5h22.0l-11.00,20zM1772.9,661.5h22.0l-11.00,20zM1777.2,663.6h22.0l-11.00,20zM1781.5,665.8h22.0l-11.00,20zM1785.8,668.3h22.0l-11.00,20zM1790.1,670.8h22.0l-11.00,20zM1794.5,673.3h22.0l-11.00,20zM1798.8,675.9h22.0l-11.00,20zM1803.1,678.5h22.0l-11.00,20zM1807.4,681.1h22.0l-11.00,20zM1811.7,683.6h22.0l-11.00,20zM1816.0,686.3h22.0l-11.00,20zM1820.4,689.1h22.0l-11.00,20zM1824.7,691.8h22.0l-11.00,20zM1829.0,694.4h22.0l-11.00,20zM1833.3,696.7h22.0l-11.00,20zM1837.6,698.7h22.0l-11.00,20zM1841.9,700.7h22.0l-11.00,20zM1846.3,702.6h22.0l-11.00,20zM1850.6,704.0h22.0l-11.00,20zM1854.9,704.8h22.0l-11.00,20zM1859.2,704.5h22.0l-11.00,20zM1863.5,702.9h22.0l-11.00,20zM1867.9,700.2h22.0l-11.00,20zM1872.2,696.8h22.0l-11.00,20zM1876.5,693.4h22.0l-11.00,20zM1880.8,690.6h22.0l-11.00,20zM1885.1,688.7h22.0l-11.00,20zM1889.4,687.6h22.0l-11.00,20zM1893.8,686.9h22.0l-11.00,20zM1898.1,686.4h22.0l-11.00,20zM1902.4,685.9h22.0l-11.00,20zM1906.7,685.1h22.0l-11.00,20zM1911.0,684.0h22.0l-11.00,20zM1915.4,682.8h22.0l-11.00,20zM1919.7,681.5h22.0l-11.00,20zM1924.0,680.2h22.0l-11.00,20zM1928.3,678.9h22.0l-11.00,20zM1932.6,677.6h22.0l-11.00,20zM1936.9,676.5h22.0l-11.00,20zM1941.3,675.4h22.0l-11.00,20zM1945.6,674.3h22.0l-11.00,20zM1949.9,673.5h22.0l-11.00,20z" fill="#0000ff"/>
</g>
<g font-family="Liberation Serif, Times New Roman, serif" font-size="84" fill="#050505">
<text x="261.5" y="1052">(a)</text>
<text x="285.6" y="858">(b)</text>
<text x="301" y="604">(c)</text>
<text x="301" y="331.5">(d)</text>
</g>
<g stroke="#111" stroke-width="1.9" stroke-dasharray="10 9.53" fill="none">
<path d="M424.6,200.9V1388.5"/>
<path d="M629.6,219.6V1407.5"/>
<path d="M964.8,206.4V1393.8"/>
<path d="M1356.2,222.2V1409.0"/>
</g>
<g fill="#000">
<path d="M414.6,1388.5h20.0L424.6,1427.0z"/>
<path d="M619.6,1407.5h20.0L629.6,1443.0z"/>
<path d="M954.8,1393.8h20.0L964.8,1432.0z"/>
<path d="M1346.2,1409.0h20.0L1356.2,1443.0z"/>
</g>
<g font-family="Liberation Serif, Times New Roman, serif" font-size="64" fill="#050505" text-anchor="middle">
<text x="233.7" y="1538.5">400</text>
<text x="406.4" y="1538.5">420</text>
<text x="579.1" y="1538.5">440</text>
<text x="751.9" y="1538.5">460</text>
<text x="924.6" y="1538.5">480</text>
<text x="1097.3" y="1538.5">500</text>
<text x="1270.0" y="1538.5">520</text>
<text x="1442.7" y="1538.5">540</text>
<text x="1615.5" y="1538.5">560</text>
<text x="1788.2" y="1538.5">580</text>
<text x="1960.9" y="1538.5">600</text>
</g>
<g font-family="Liberation Serif, Times New Roman, serif" font-size="64" fill="#050505" text-anchor="end">
<text x="187" y="1362.5">200</text>
<text x="187" y="984.5">400</text>
<text x="187" y="606.5">600</text>
<text x="187" y="228.5">800</text>
</g>
<g font-family="Liberation Serif, Times New Roman, serif" font-size="70" fill="#050505">
<text x="316" y="160">423 nm</text>
<text x="553" y="193.5">447 nm</text>
<text x="881" y="180">484 nm</text>
<text x="1243" y="186">530 nm</text>
</g>
<text x="787" y="1621" font-family="Liberation Sans, Arial, sans-serif" font-size="71.4" fill="#050505">Wavelength (nm)</text>
<text transform="translate(78,1086) rotate(-90)" font-family="Liberation Serif, Times New Roman, serif" font-size="84" fill="#050505">PL Intensity (a.u.)</text>
</g></svg></body></html>
